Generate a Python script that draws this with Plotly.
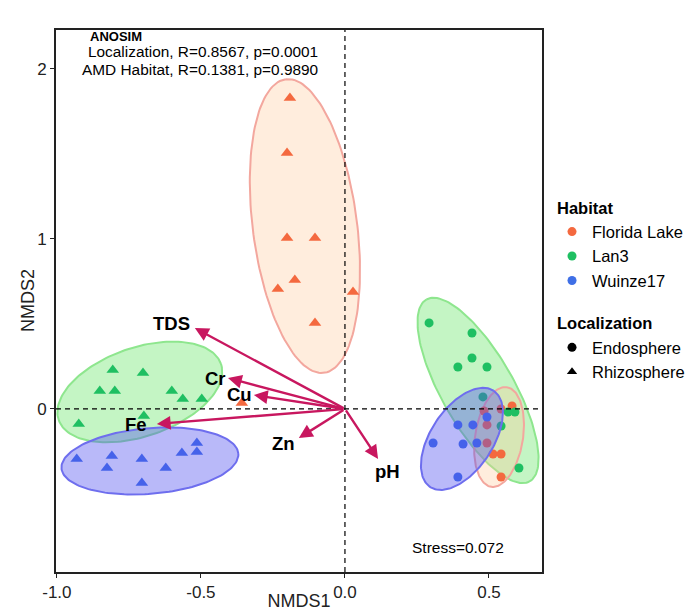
import numpy as np
import plotly.graph_objects as go

# ---------------- data ----------------
habitats = ["Florida Lake", "Lan3", "Wuinze17"]
localizations = ["Endosphere", "Rhizosphere"]

fl_rhizo_x = [-0.191, -0.201, -0.201, -0.104, -0.174, -0.233, 0.028, -0.104, -0.358]
fl_rhizo_y = [1.829, 1.506, 1.006, 1.006, 0.759, 0.706, 0.688, 0.506, 0.035]
lan_rhizo_x = [-0.806, -0.701, -0.851, -0.799, -0.601, -0.563, -0.497, -0.698, -0.924]
lan_rhizo_y = [0.229, 0.212, 0.106, 0.106, 0.106, 0.059, 0.059, -0.041, -0.088]
wu_rhizo_x = [-0.931, -0.809, -0.826, -0.705, -0.622, -0.705, -0.566, -0.514, -0.514]
wu_rhizo_y = [-0.294, -0.276, -0.347, -0.294, -0.347, -0.435, -0.259, -0.253, -0.200]

fl_endo_x = [0.483, 0.542, 0.580, 0.493, 0.493, 0.514, 0.542, 0.542]
fl_endo_y = [-0.012, 0.000, 0.018, -0.094, -0.200, -0.265, -0.265, -0.400]
lan_endo_x = [0.292, 0.441, 0.441, 0.392, 0.493, 0.479, 0.566, 0.590, 0.542, 0.604]
lan_endo_y = [0.506, 0.447, 0.300, 0.247, 0.247, 0.071, -0.018, -0.018, -0.100, -0.347]
wu_endo_x = [0.493, 0.392, 0.444, 0.306, 0.410, 0.458, 0.392]
wu_endo_y = [-0.047, -0.094, -0.094, -0.200, -0.206, -0.200, -0.400]

env_names = ["TDS", "Cr", "Cu", "Fe", "Zn", "pH"]
env_x = [-0.521, -0.406, -0.316, -0.653, -0.160, 0.115]
env_y = [0.476, 0.182, 0.082, -0.088, -0.171, -0.294]
env_label_x = [-0.601, -0.448, -0.365, -0.726, -0.215, 0.146]
env_label_y = [0.500, 0.182, 0.088, -0.094, -0.206, -0.365]

# ellipse summaries: centre (data), semi-axes (x units), visual angle (deg)
ell_center_x = [-0.139, -0.712, -0.677, 0.535, 0.462, 0.406]
ell_center_y = [1.076, 0.100, -0.306, -0.165, 0.109, -0.176]
ell_a = [0.514, 0.298, 0.308, 0.175, 0.363, 0.200]
ell_b = [0.181, 0.154, 0.114, 0.083, 0.126, 0.108]
ell_angle = [97.4, 19.0, 4.8, 81.0, 119.6, 56.6]
ell_habitat = ["Florida Lake", "Lan3", "Wuinze17", "Florida Lake", "Lan3", "Wuinze17"]

x_ticks = [-1.0, -0.5, 0.0, 0.5]
x_ticktext = ["-1.0", "-0.5", "0.0", "0.5"]
y_ticks = [-1, 0, 1, 2]
y_ticktext = ["-1", "0", "1", "2"]

# ---------------- style ----------------
W, H = 687, 611
ML, MR, MT, MB = 56, 145, 30, 39
XR = [-1.003, 0.684]
YR = [-0.959, 2.229]
plot_w = W - ML - MR
plot_h = H - MT - MB
ratio = (plot_w / (XR[1] - XR[0])) / (plot_h / (YR[1] - YR[0]))

pt_col = {"Florida Lake": "#F4693F", "Lan3": "#1FBF62", "Wuinze17": "#3F6FE6"}
fill_col = {"Florida Lake": "rgba(255,200,150,0.32)",
            "Lan3": "rgba(100,228,100,0.38)",
            "Wuinze17": "rgba(80,80,240,0.40)"}
line_col = {"Florida Lake": "#F3A79E", "Lan3": "#8EE68E", "Wuinze17": "#6E6EEE"}
arrow_col = "#C8175F"
FONT = "Liberation Sans, Arial, sans-serif"

fig = go.Figure()

t = np.linspace(0, 2 * np.pi, 160)


def add_ellipses(which):
    for cx, cy, a, b, ang, hab in zip(ell_center_x, ell_center_y, ell_a, ell_b,
                                      ell_angle, ell_habitat):
        if hab not in which:
            continue
        th = np.radians(ang)
        u = a * np.cos(t)
        v = b * np.sin(t)
        X = u * np.cos(th) - v * np.sin(th)
        Y = u * np.sin(th) + v * np.cos(th)
        fig.add_trace(go.Scatter(
            x=cx + X, y=cy + Y * ratio, mode="lines", fill="toself",
            fillcolor=fill_col[hab], line=dict(color=line_col[hab], width=2),
            showlegend=False, hoverinfo="skip"))


add_ellipses(["Lan3"])
add_ellipses(["Florida Lake"])

groups = [
    ("Florida Lake", "triangle-up", fl_rhizo_x, fl_rhizo_y),
    ("Lan3", "triangle-up", lan_rhizo_x, lan_rhizo_y),
    ("Wuinze17", "triangle-up", wu_rhizo_x, wu_rhizo_y),
    ("Florida Lake", "circle", fl_endo_x, fl_endo_y),
    ("Lan3", "circle", lan_endo_x, lan_endo_y),
    ("Wuinze17", "circle", wu_endo_x, wu_endo_y),
]
for hab, sym, xs, ys in groups:
    fig.add_trace(go.Scatter(
        x=xs, y=ys, mode="markers", showlegend=False,
        marker=dict(symbol=sym, size=11 if sym == "triangle-up" else 9,
                    color=pt_col[hab], line=dict(width=0))))

add_ellipses(["Wuinze17"])

# legend entries
for i, hab in enumerate(habitats):
    fig.add_trace(go.Scatter(
        x=[None], y=[None], mode="markers", name=hab,
        legendgroup="hab", legendgrouptitle=dict(text="<b>Habitat</b>") if i == 0 else None,
        marker=dict(symbol="circle", size=9, color=pt_col[hab])))
for i, (loc, sym) in enumerate(zip(localizations, ["circle", "triangle-up"])):
    fig.add_trace(go.Scatter(
        x=[None], y=[None], mode="markers", name=loc,
        legendgroup="loc", legendgrouptitle=dict(text="<b>Localization</b>") if i == 0 else None,
        marker=dict(symbol=sym, size=9, color="black")))

annotations = []
for name, ex, ey, lx, ly in zip(env_names, env_x, env_y, env_label_x, env_label_y):
    annotations.append(dict(
        x=ex, y=ey, ax=0, ay=0, xref="x", yref="y", axref="x", ayref="y",
        text="", showarrow=True, arrowhead=2, arrowsize=1.15, arrowwidth=2.4,
        arrowcolor=arrow_col, standoff=0))
    annotations.append(dict(
        x=lx, y=ly, xref="x", yref="y", text="<b>%s</b>" % name, showarrow=False,
        font=dict(family=FONT, size=18.5, color="black")))

annotations += [
    dict(x=-0.892, y=2.188, xref="x", yref="y", xanchor="left", showarrow=False,
         text="<b>ANOSIM</b>", font=dict(family=FONT, size=13, color="black")),
    dict(x=-0.493, y=2.100, xref="x", yref="y", showarrow=False,
         text="Localization, R=0.8567, p=0.0001", font=dict(family=FONT, size=15.4, color="black")),
    dict(x=-0.503, y=1.994, xref="x", yref="y", showarrow=False,
         text="AMD Habitat, R=0.1381, p=0.9890", font=dict(family=FONT, size=15.4, color="black")),
    dict(x=0.392, y=-0.812, xref="x", yref="y", showarrow=False,
         text="Stress=0.072", font=dict(family=FONT, size=15.5, color="black")),
    dict(x=0.0, y=0.5, xref="paper", yref="paper", xanchor="center", yanchor="middle",
         xshift=-28, showarrow=False, textangle=-90,
         text="NMDS2", font=dict(family=FONT, size=18, color="#222")),
]

fig.update_layout(
    width=W, height=H,
    margin=dict(l=ML, r=MR, t=MT, b=MB, autoexpand=False),
    paper_bgcolor="white", plot_bgcolor="white",
    font=dict(family=FONT, size=16, color="black"),
    annotations=annotations,
    shapes=[
        dict(type="line", xref="x", yref="paper", x0=0, x1=0, y0=0, y1=1,
             line=dict(color="black", width=1.2, dash="5px,4px"), layer="above"),
        dict(type="line", xref="paper", yref="y", x0=0, x1=1, y0=0, y1=0,
             line=dict(color="black", width=1.2, dash="5px,4px"), layer="above"),
    ],
    legend=dict(x=1.0206, y=0.705, xanchor="left", yanchor="top",
                font=dict(family=FONT, size=16.5, color="black"),
                grouptitlefont=dict(family=FONT, size=16.5, color="black"),
                tracegroupgap=18, itemsizing="trace", bgcolor="rgba(0,0,0,0)"),
    xaxis=dict(range=XR, showgrid=False, zeroline=False, showline=True, mirror=True,
               linecolor="#222", linewidth=1.6, ticks="outside", ticklen=4,
               tickcolor="#222", tickvals=x_ticks, ticktext=x_ticktext,
               tickfont=dict(size=17, color="#222"),
               title=dict(text="NMDS1", font=dict(size=18, color="#222"), standoff=0)),
    yaxis=dict(range=YR, showgrid=False, zeroline=False, showline=True, mirror=True,
               linecolor="#222", linewidth=1.6, ticks="outside", ticklen=4,
               tickcolor="#222", tickvals=y_ticks, ticktext=y_ticktext,
               tickfont=dict(size=17, color="#222")),
)

fig.write_html("out.html", config={"displayModeBar": False},
               post_script="document.body.style.margin='0px';")
